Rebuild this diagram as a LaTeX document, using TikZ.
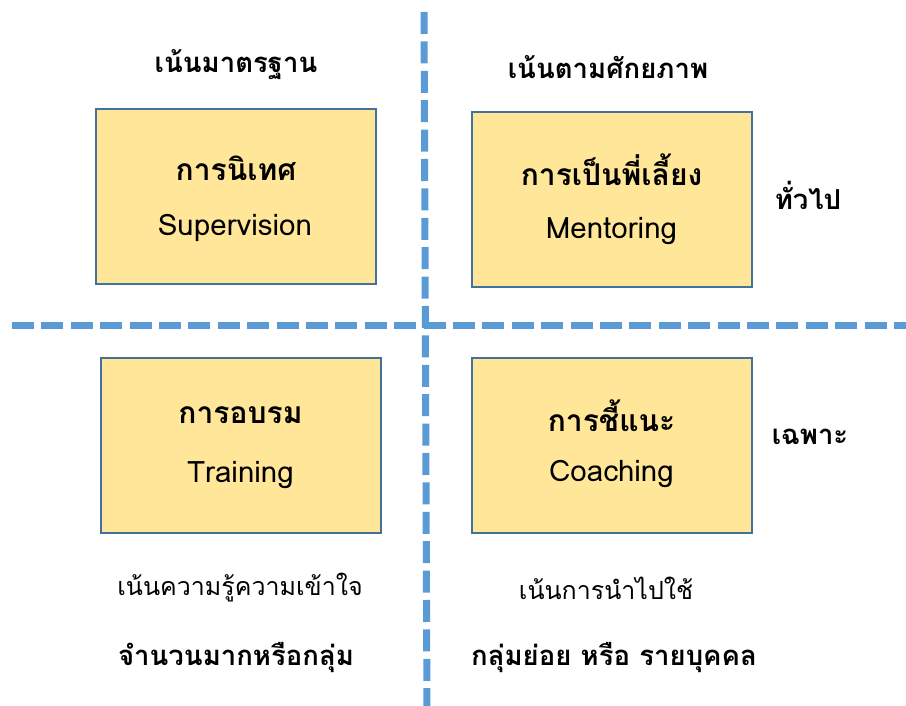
\documentclass[tikz,border=0pt]{standalone}
\usepackage{fontspec}
\newfontfamily\thai[Script=Thai]{Loma}
\definecolor{boxfill}{HTML}{FFE699}
\definecolor{boxline}{HTML}{41719C}
\definecolor{divline}{HTML}{5B9BD5}
\begin{document}
\begin{tikzpicture}[x=1pt,y=-1pt,
  quad/.style={draw=boxline,line width=2pt,fill=boxfill,minimum width=280pt,minimum height=175pt,inner sep=0pt},
  title/.style={font=\thai\bfseries\fontsize{30}{36}\selectfont,inner sep=0pt},
  sub/.style={font=\thai\fontsize{29.5}{35}\selectfont,inner sep=0pt},
  lbl/.style={font=\thai\bfseries\fontsize{27.5}{33}\selectfont,inner sep=0pt},
  lblr/.style={font=\thai\fontsize{25}{30}\selectfont,inner sep=0pt},
  divider/.style={draw=divline,line width=7pt,dash pattern=on 22pt off 7.4pt}]
\useasboundingbox (0,0) rectangle (906,706);
% dividers
\coordinate (vtop) at (424,12);
\coordinate (vbot) at (427,712);
\coordinate (hl) at (12,325);
\coordinate (hr) at (915,325);
\draw[divider] (hl) -- (hr);
\draw[divider] (vtop) -- (vbot);
% boxes
\node[quad] (sup) at (236,196.5) {};
\node[quad] (men) at (611.5,199.5) {};
\node[quad] (tra) at (240.5,445) {};
\node[quad] (coa) at (611.5,445.5) {};
% box texts
\node[title] (supT) at (236,168) {การนิเทศ};
\node[sub]   (supE) at (235,228) {Supervision};
\node[title] (menT) at (611.5,170) {การเป็นพี่เลี้ยง};
\node[sub]   (menE) at (611.5,231) {Mentoring};
\node[title] (traT) at (240.5,415) {การอบรม};
\node[sub]   (traE) at (240.5,475) {Training};
\node[title] (coaT) at (611.5,416) {การชี้แนะ};
\node[sub]   (coaE) at (611.5,474) {Coaching};
% outer labels
\node[lbl] (stdL) at (236,65) {เน้นมาตรฐาน};
\node[lbl] (potL) at (608,67) {เน้นตามศักยภาพ};
\node[lbl] (genL) at (808,195) {ทั่วไป};
\node[lbl] (spcL) at (810,437) {เฉพาะ};
\node[lblr] (undL) at (240,588) {เน้นความรู้ความเข้าใจ};
\node[lbl]  (grpL) at (236,658) {จำนวนมากหรือกลุ่ม};
\node[lblr] (appL) at (606,588) {เน้นการนำไปใช้};
\node[lbl]  (indL) at (614,658) {กลุ่มย่อย หรือ รายบุคคล};
\end{tikzpicture}
\end{document}
